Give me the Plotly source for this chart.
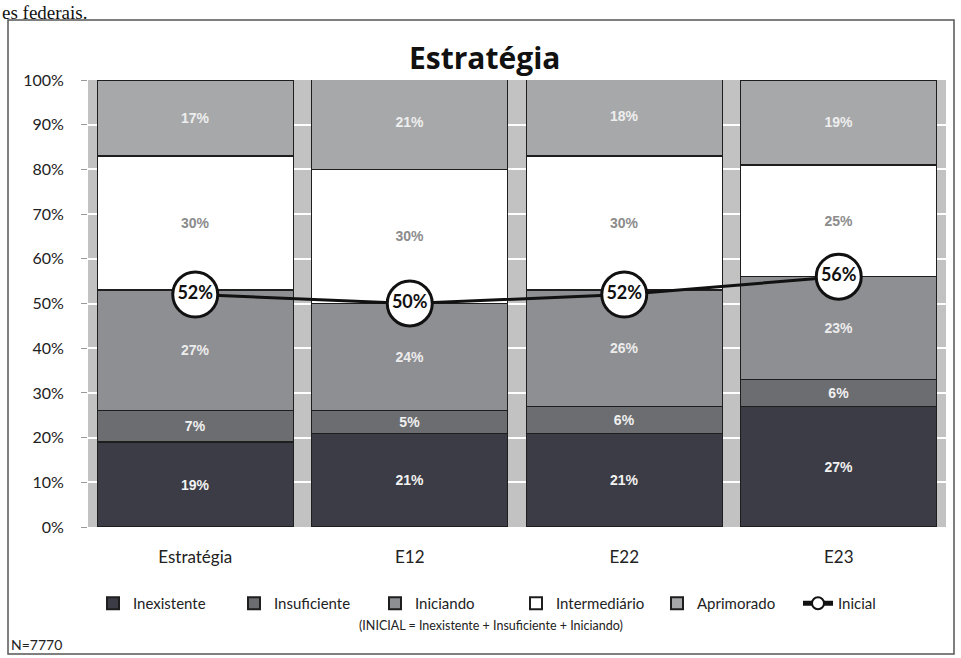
import plotly.graph_objects as go

# ------------------------------------------------------------------
# Data
# ------------------------------------------------------------------
categories = ["Estratégia", "E12", "E22", "E23"]

inexistente = [19, 21, 21, 27]
insuficiente = [7, 5, 6, 6]
iniciando = [27, 24, 26, 23]
intermediario = [30, 30, 30, 25]
aprimorado = [17, 21, 18, 19]

inicial = [52, 50, 52, 56]

y_ticks = [0, 10, 20, 30, 40, 50, 60, 70, 80, 90, 100]
y_tick_labels = [f"{v}%" for v in y_ticks]

FONT = "Lato, 'Open Sans', sans-serif"
TITLE_FONT = "'Open Sans', Lato, sans-serif"
LABEL_FONT = "'Liberation Sans', Arial, sans-serif"

# name, values, fill colour, label colour
SEGMENTS = [
    ("Inexistente", inexistente, "#3b3c45", "#f2f2f2"),
    ("Insuficiente", insuficiente, "#6c6d71", "#f0f0f0"),
    ("Iniciando", iniciando, "#8e8f93", "#ececec"),
    ("Intermediário", intermediario, "#ffffff", "#8c8c8c"),
    ("Aprimorado", aprimorado, "#a7a8aa", "#eeeeee"),
]

W, H = 961, 658
M = dict(l=88, r=15, t=80, b=131)
PLOT_W = W - M["l"] - M["r"]
PLOT_H = H - M["t"] - M["b"]


def px_x(p):
    return (p - M["l"]) / PLOT_W


def px_y(p):
    return (H - M["b"] - p) / PLOT_H


# ------------------------------------------------------------------
# Figure
# ------------------------------------------------------------------
fig = go.Figure()

for name, values, fill, txt in SEGMENTS:
    fig.add_trace(
        go.Bar(
            x=categories,
            y=values,
            name=name,
            marker=dict(color=fill, line=dict(color="#1e1e1e", width=1.2)),
            text=[f"{v}%" for v in values],
            textposition="inside",
            insidetextanchor="middle",
            textangle=0,
            textfont=dict(family=LABEL_FONT, size=14, color=txt, weight="bold"),
            hoverinfo="skip",
        )
    )

fig.add_trace(
    go.Scatter(
        x=categories,
        y=inicial,
        name="Inicial",
        mode="lines+markers+text",
        line=dict(color="#111111", width=3),
        marker=dict(size=45, color="white", line=dict(color="#111111", width=3)),
        text=[f"{v}%" for v in inicial],
        textposition="middle center",
        textfont=dict(family=FONT, size=18, color="#111111", weight="bold"),
    )
)

fig.update_layout(
    width=W,
    height=H,
    barmode="stack",
    bargap=0.085,
    plot_bgcolor="#c2c2c2",
    paper_bgcolor="white",
    margin=M,
    font=dict(family=FONT, size=15, color="#222222"),
    showlegend=True,
    legend=dict(
        orientation="h",
        xref="container",
        x=93 / W,
        xanchor="left",
        yref="container",
        y=1 - 587 / H,
        yanchor="top",
        itemsizing="constant",
        entrywidth=96,
        font=dict(family=FONT, size=15, color="#222222"),
        traceorder="normal",
    ),
)

fig.update_xaxes(
    showline=False,
    ticks="",
    ticklabelstandoff=18,
    tickfont=dict(family=FONT, size=17, color="#222222"),
)

fig.update_yaxes(
    range=[0, 100],
    tickvals=y_ticks,
    ticktext=y_tick_labels,
    ticks="outside",
    ticklen=6,
    tickcolor="#9a9a9a",
    showgrid=True,
    gridcolor="white",
    gridwidth=2,
    zeroline=False,
    ticklabelstandoff=14,
    tickfont=dict(family=FONT, size=16, color="#222222"),
)

# title
fig.add_annotation(
    text="<b>Estratégia</b>",
    xref="paper", yref="paper",
    x=px_x(484), y=px_y(58),
    xanchor="center", yanchor="middle",
    showarrow=False,
    font=dict(family=TITLE_FONT, size=30, color="#111111"),
)

# note under legend
fig.add_annotation(
    text="(INICIAL = Inexistente + Insuficiente + Iniciando)",
    xref="paper", yref="paper",
    x=px_x(491), y=px_y(625),
    xanchor="center", yanchor="middle",
    showarrow=False,
    font=dict(family=FONT, size=12.5, color="#222222"),
)

# sample size
fig.add_annotation(
    text="N=7770",
    xref="paper", yref="paper",
    x=px_x(9), y=px_y(644),
    xanchor="left", yanchor="middle",
    showarrow=False,
    font=dict(family=FONT, size=14, color="#222222"),
)

# piece of the surrounding page text in the scan
fig.add_annotation(
    text="es federais.",
    xref="paper", yref="paper",
    x=px_x(0), y=px_y(0),
    xanchor="left", yanchor="top",
    showarrow=False,
    font=dict(family="'Liberation Serif', serif", size=19, color="#111111"),
)

# frame around the chart
fig.add_shape(
    type="rect",
    xref="paper", yref="paper",
    x0=px_x(8), x1=px_x(954), y0=px_y(654), y1=px_y(20),
    line=dict(color="#555555", width=1.5),
    fillcolor="rgba(0,0,0,0)",
    layer="below",
)

fig.write_html(
    "out.html",
    config={"displayModeBar": False},
    post_script="document.body.style.margin='0';",
)
